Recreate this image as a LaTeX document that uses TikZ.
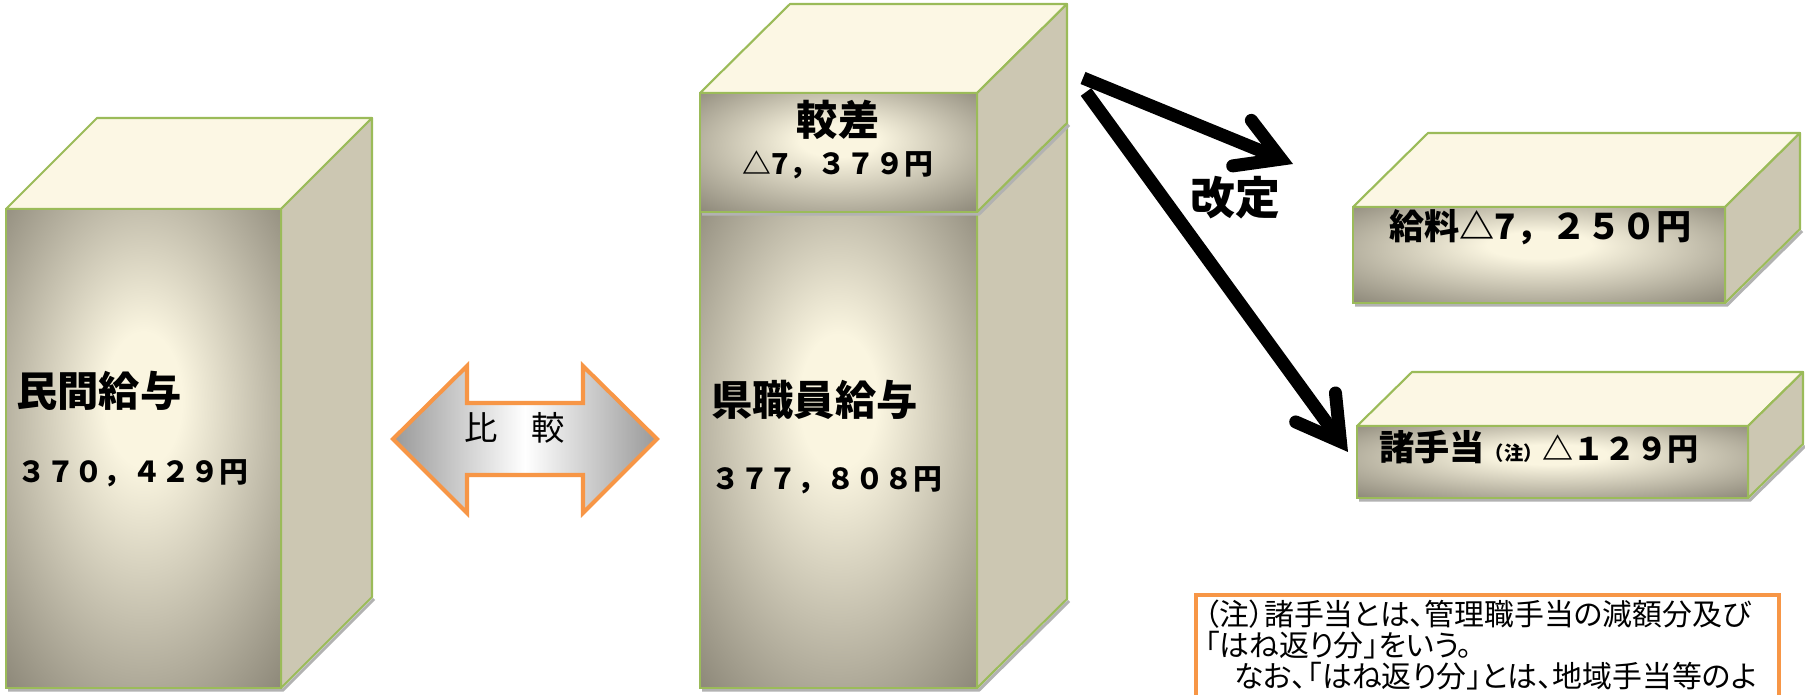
\documentclass[tikz,border=0pt]{standalone}
\usepackage{fontspec}
\newfontfamily\gothic{Noto Sans CJK JP}
\newfontfamily\notefont[RawFeature=+palt]{Noto Sans CJK JP}
\usepackage{tikz}
\usetikzlibrary{arrows.meta,calc}
\definecolor{edgegreen}{HTML}{9BBB59}
\definecolor{topcream}{HTML}{FCF7E4}
\definecolor{sidetan}{HTML}{CCC7B2}
\definecolor{glowlight}{HTML}{FAF5E0}
\definecolor{glowdark}{HTML}{8F8A7B}
\definecolor{noteorange}{HTML}{F79646}
\definecolor{arrowgray}{HTML}{999999}
\pgfdeclareradialshading{faceglow}{\pgfpoint{0bp}{6bp}}{color(0bp)=(glowlight); color(7bp)=(glowlight); color(36bp)=(glowdark); color(50bp)=(glowdark)}
\tikzset{
  topface/.style={fill=topcream,draw=edgegreen,line width=1.2pt,line join=round},
  sideface/.style={fill=sidetan,draw=edgegreen,line width=1.2pt,line join=round},
  frontface/.style={shading=faceglow,draw=edgegreen,line width=1.2pt},
  boxshadow/.style={draw=black!30,line width=1.8pt},
  bigtext/.style={font=\gothic\bfseries\fontsize{23.5}{26}\selectfont,inner sep=0pt},
  numtext/.style={font=\gothic\bfseries\fontsize{16.4}{19}\selectfont,inner sep=0pt},
  midtext/.style={font=\gothic\bfseries\fontsize{20}{24}\selectfont,inner sep=0pt},
  notetext/.style={font=\notefont\fontsize{17}{17.6}\selectfont,inner sep=0pt,align=left},
  hikakuarrow/.style={draw=noteorange,line width=2.3pt,line join=miter,left color=arrowgray,right color=arrowgray,middle color=white},
  bigarrow/.style={line width=7.4pt,-{Straight Barb[length=24pt,width=28pt,line cap=round,line join=miter]}}
}
\newcommand{\salarybox}[6]{%
  \draw[boxshadow] (#1+2,#2+#4+2) -- ++(#3,0) -- ++(#5,-#6);
  \draw[topface] (#1,#2) -- ++(#5,-#6) -- ++(#3,0) -- ++(-#5,#6) -- cycle;
  \draw[sideface] (#1+#3,#2) -- ++(#5,-#6) -- ++(0,#4) -- ++(-#5,#6) -- cycle;
  \shadedraw[frontface] (#1,#2) rectangle ++(#3,#4);
}
\begin{document}
\begin{tikzpicture}[x=0.02cm,y=-0.02cm]
\path[use as bounding box] (0,0) rectangle (1805,695);
\clip (0,0) rectangle (1805,695);
\fill[white] (0,0) rectangle (1805,695);

\salarybox{6}{209}{275}{479}{91}{91}
\salarybox{700}{212}{277}{476}{90}{89}
\salarybox{700}{93}{277}{119}{90}{89}
\salarybox{1353}{207}{372}{96}{75}{74}
\salarybox{1357}{426}{391}{72}{55}{54}

\node[bigtext,anchor=west] (minkan) at (16,391) {民間給与};
\node[numtext,anchor=west] (minkangaku) at (17,473) {３７０，４２９円};
\node[bigtext] (kakusa) at (838,120) {較差};
\node[numtext] (kakusagaku) at (838,165) {△7，３７９円};
\node[bigtext,anchor=west] (kenshokuin) at (711,400) {県職員給与};
\node[numtext,anchor=west] (kenshokuingaku) at (711,480) {３７７，８０８円};

\draw[hikakuarrow] (393,439) -- (467,366) -- (467,403) -- (583,403) -- (583,366) -- (657,439)
  -- (583,513) -- (583,475) -- (467,475) -- (467,513) -- cycle;
\node[font=\gothic\fontsize{19}{22}\selectfont,inner sep=0pt] (hikaku) at (515,428) {比　較};

\coordinate (kaitei) at (1083,78);
\coordinate (kyuryotip) at (1293,164);
\coordinate (teatetip) at (1348,452);
\draw[bigarrow] (kaitei) -- (kyuryotip);
\draw[bigarrow] ($(kaitei)+(3,14)$) -- (teatetip);
\node[font=\gothic\bfseries\fontsize{25.5}{28}\selectfont,inner sep=0pt] (kaiteilabel) at (1235,198) {改定};

\node[midtext,anchor=west] (kyuryo) at (1389,227) {給料△7，２５０円};
\node[midtext,anchor=west] (teate) at (1379,447) {諸手当{\fontsize{11}{14}\selectfont （注）}{\fontsize{17.7}{20}\selectfont △１２９円}};

\draw[noteorange,line width=2.3pt] (1196,595) rectangle (1779,740);
\node[notetext,anchor=north west] (chu) at (1204,600) {（注）諸手当とは、管理職手当の減額分及び\\「はね返り分」をいう。\\　なお、「はね返り分」とは、地域手当等のよ};
\end{tikzpicture}
\end{document}
